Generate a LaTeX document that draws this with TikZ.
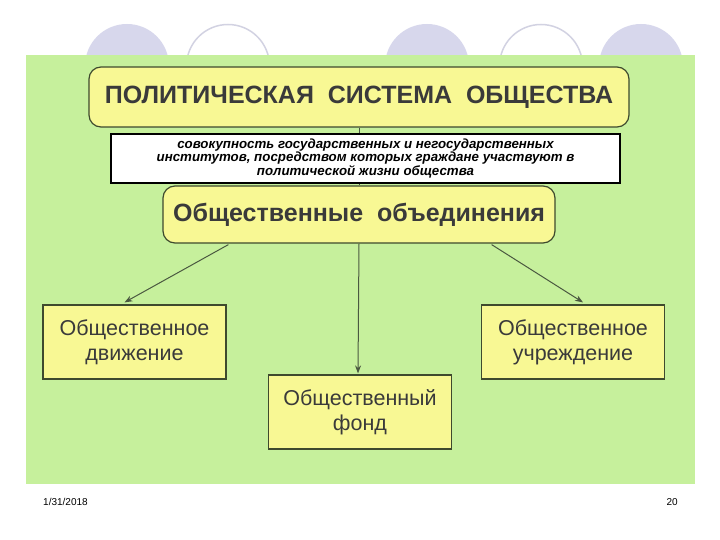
\documentclass[tikz,border=0pt]{standalone}
\usepackage{fontspec}
\setmainfont{Liberation Sans}
\usetikzlibrary{calc,arrows.meta}
\definecolor{bggreen}{HTML}{C6F09C}
\definecolor{lav}{HTML}{D7D7EC}
\definecolor{lavline}{HTML}{D2D2E2}
\definecolor{boxyel}{HTML}{F8F894}
\definecolor{boxline}{HTML}{3E4A2E}
\definecolor{txtgray}{HTML}{3A3A3A}
\definecolor{arrowc}{HTML}{4A5840}
\tikzset{
  roundbox/.style={draw=boxline, line width=1.2pt, fill=boxyel, rounded corners=12pt, inner sep=0pt, text=txtgray},
  sqbox/.style={draw=boxline, line width=1.2pt, fill=boxyel, inner sep=0pt, text=txtgray, align=center,
    font=\fontsize{21.5}{25}\selectfont, minimum width=183pt, minimum height=74pt},
  defbox/.style={draw=black, line width=2.5pt, fill=white, inner sep=0pt, align=center,
    font=\fontsize{13.3}{13.5}\selectfont\bfseries\itshape, minimum width=509pt, minimum height=49pt},
  conn/.style={draw=arrowc, line width=1pt, -{Stealth[length=8pt,width=6pt]}},
  foot/.style={font=\fontsize{10}{12}\selectfont, text=black, inner sep=0pt}
}
\begin{document}
\begin{tikzpicture}[x=1pt,y=-1pt]
\useasboundingbox (0,0) rectangle (720,540);
\fill[white] (0,0) rectangle (720,540);
% decorative circles
\fill[lav] (127,66) circle (42);
\draw[lavline, line width=1.5pt] (228,66) circle (41.5);
\fill[lav] (427,66) circle (42);
\draw[lavline, line width=1.5pt] (541,66) circle (41.5);
\fill[lav] (641,66) circle (42);
% green panel
\fill[bggreen] (26,55) rectangle (695,484);
% nodes
\node[roundbox, minimum width=540pt, minimum height=60pt, font=\fontsize{25}{27}\selectfont\bfseries] (title) at (359,97) {ПОЛИТИЧЕСКАЯ\ \ СИСТЕМА\ \ ОБЩЕСТВА};
\node[roundbox, minimum width=392pt, minimum height=57pt, font=\fontsize{25}{27}\selectfont\bfseries] (obj) at (359,214.5) {Общественные\ \ объединения};
\draw[draw=arrowc, line width=1pt] (title.south) -- (obj.north);
\node[defbox] (def) at (365.5,158.5) {совокупность государственных и негосударственных\\институтов, посредством которых граждане участвуют в\\политической жизни общества};
\node[sqbox] (left) at (134.5,342) {Общественное\\движение};
\node[sqbox] (right) at (573,342) {Общественное\\учреждение};
\node[sqbox] (center) at (360,412) {Общественный\\фонд};
% connectors
\draw[conn] ($(obj.south west)+(66,1)$) -- ($(left.north)+(-10,-2)$);
\draw[conn] (obj.south) -- ($(center.north)+(-2,-1)$);
\draw[conn] ($(obj.south east)+(-64,1)$) -- ($(right.north)+(10,-2)$);
% footer
\node[foot, anchor=west] (date) at (43,502) {1/31/2018};
\node[foot, anchor=east] (page) at (678,502) {20};
\end{tikzpicture}
\end{document}
